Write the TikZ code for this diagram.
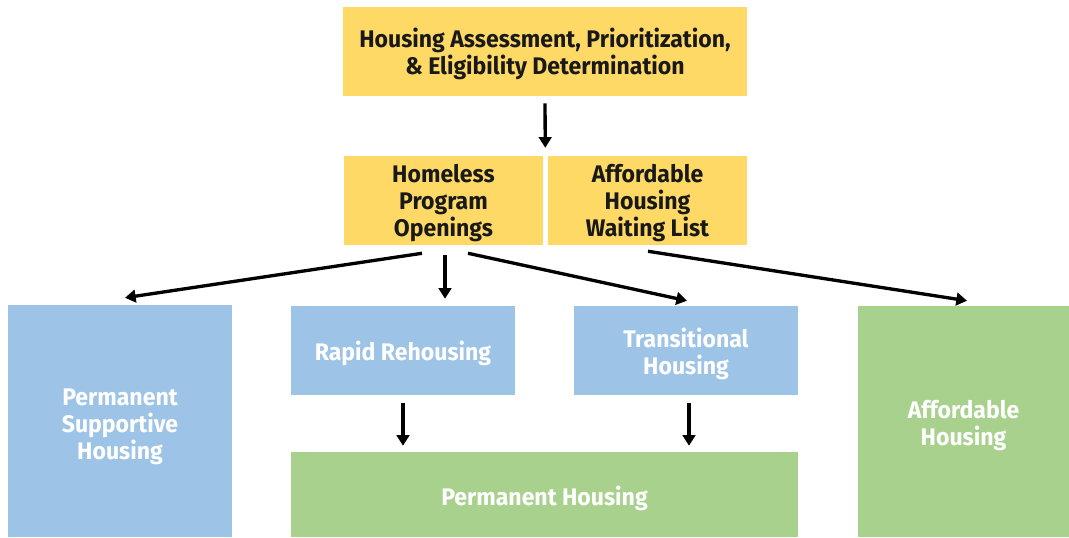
\documentclass[tikz,border=0pt]{standalone}
\usepackage{fontspec}
\setmainfont[FakeStretch=0.96]{Fira Sans}
\usetikzlibrary{arrows.meta,calc}
\definecolor{boxyellow}{HTML}{FFD966}
\definecolor{boxblue}{HTML}{9DC3E6}
\definecolor{boxgreen}{HTML}{A9D18E}
\tikzset{
  box/.style={inner sep=0pt},
  ybox/.style={box, fill=boxyellow},
  bbox/.style={box, fill=boxblue},
  gbox/.style={box, fill=boxgreen},
  txt/.style={inner sep=0pt, align=center, font=\bfseries\fontsize{18}{20.25}\selectfont},
  dtxt/.style={txt, text=black!90},
  wtxt/.style={txt, text=white},
  arr/.style={line width=2.5pt, -{Triangle[length=8pt,width=9.5pt]}, black}
}
\begin{document}
\begin{tikzpicture}[x=0.75pt,y=-0.75pt]
\useasboundingbox (0,0) rectangle (1069,537);
\node[ybox, minimum width=303pt, minimum height=66.75pt] (top) at (545,51.5) {};
\node[dtxt] (toptext) at (545,54) {Housing Assessment, Prioritization,\\ \& Eligibility Determination};
\node[ybox, minimum width=149.25pt, minimum height=66.75pt] (homeless) at (443.5,200.5) {};
\node[dtxt] (homelesstext) at (443.5,203.5) {Homeless\\ Program\\ Openings};
\node[ybox, minimum width=149.25pt, minimum height=66.75pt] (waiting) at (647.5,200.5) {};
\node[dtxt] (waitingtext) at (647.5,203.5) {Affordable\\ Housing\\ Waiting List};
\node[bbox, minimum width=168pt, minimum height=174pt] (psh) at (120,421) {};
\node[wtxt] (pshtext) at (120,427) {Permanent\\ Supportive\\ Housing};
\node[bbox, minimum width=168pt, minimum height=66.75pt] (rapid) at (403,350.5) {};
\node[wtxt] (rapidtext) at (403,353) {Rapid Rehousing};
\node[bbox, minimum width=168pt, minimum height=66.75pt] (trans) at (686,350.5) {};
\node[wtxt] (transtext) at (686,353.5) {Transitional\\ Housing};
\node[gbox, minimum width=158.25pt, minimum height=173.25pt] (aff) at (963.5,421.5) {};
\node[wtxt] (afftext) at (963.5,426) {Affordable\\ Housing};
\node[gbox, minimum width=380.25pt, minimum height=63.75pt] (perm) at (544.5,494.5) {};
\node[wtxt] (permtext) at (544.5,498) {Permanent Housing};

\draw[arr] ($(top.south)+(0,7)$) -- ($(homeless.north east)+(2,-8)$);
\draw[arr] ($(homeless.south)+(-21.5,8)$) -- ($(psh.north)+(5,-7)$);
\draw[arr] ($(homeless.south)+(1.5,10)$) -- ($(rapid.north)+(42,-7)$);
\draw[arr] ($(homeless.south)+(24.5,8)$) -- ($(trans.north)+(1,-5)$);
\draw[arr] ($(waiting.south)+(0.5,6)$) -- ($(aff.north)+(3.5,-5)$);
\draw[arr] ($(rapid.south)+(0,8)$) -- ($(rapid.south |- perm.north)+(0,-6)$);
\draw[arr] ($(trans.south)+(3,8)$) -- ($(trans.south |- perm.north)+(3,-6)$);
\end{tikzpicture}
\end{document}
